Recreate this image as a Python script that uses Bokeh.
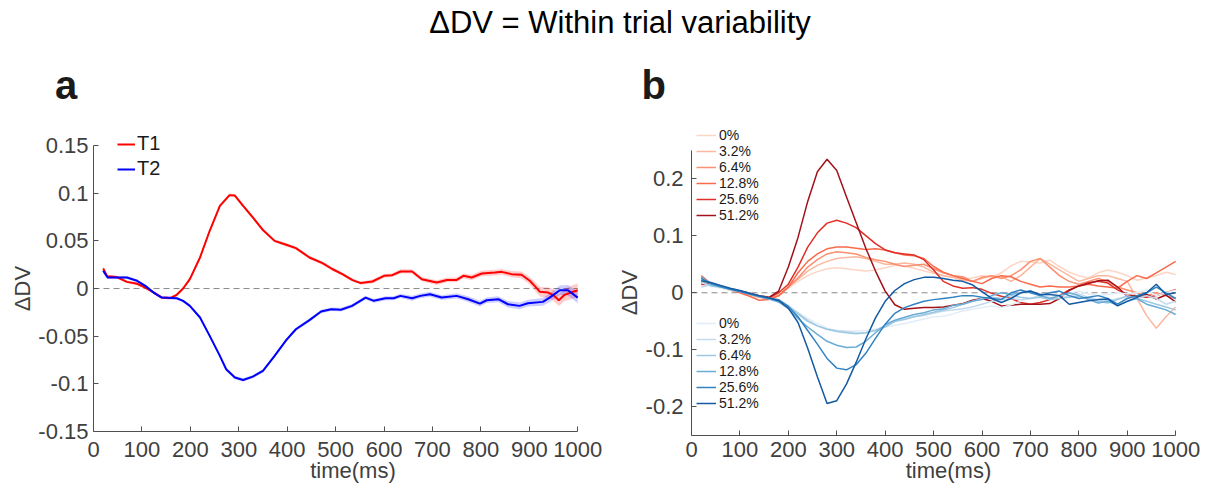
import math
from bokeh.plotting import figure
from bokeh.models import Range1d, FixedTicker, Legend, LegendItem
from bokeh.layouts import column, row
from bokeh.embed import file_html
from bokeh.resources import INLINE
from bokeh.core.properties import value

# ---------------- text ----------------
title_text = "ΔDV = Within trial variability"
panel_a_letter = "a"
panel_b_letter = "b"
x_label = "time(ms)"
y_label = "ΔDV"

# ---------------- ticks ----------------
x_ticks = [0, 100, 200, 300, 400, 500, 600, 700, 800, 900, 1000]
x_tick_labels = ["0", "100", "200", "300", "400", "500", "600", "700", "800", "900", "1000"]
ya_ticks = [-0.15, -0.1, -0.05, 0, 0.05, 0.1, 0.15]
ya_tick_labels = ["-0.15", "-0.1", "-0.05", "0", "0.05", "0.1", "0.15"]
yb_ticks = [-0.2, -0.1, 0, 0.1, 0.2]
yb_tick_labels = ["-0.2", "-0.1", "0", "0.1", "0.2"]

# ---------------- panel a ----------------
series_a = ["T1", "T2"]
t_T1 = [20, 28, 48, 69, 90, 107, 124, 141, 158, 172, 185, 199, 220, 240, 261, 281, 292, 309, 329, 350,
        374, 398, 418, 446, 473, 493, 514, 535, 552, 576, 600, 617, 634, 658, 678, 709, 730, 750, 764, 781,
        802, 829, 843, 863, 884, 901, 911, 922, 939, 949, 961, 973, 986, 1000]
dv_T1 = [0.021, 0.013, 0.012, 0.007, 0.005, 0.001, -0.004, -0.0095, -0.010, -0.0066,
         0.0, 0.0099, 0.0326, 0.0606, 0.0868, 0.098, 0.0975, 0.0868, 0.0746, 0.0613,
         0.050, 0.0459, 0.0424, 0.0326, 0.0266, 0.0205, 0.0151, 0.0088, 0.0057, 0.0074,
         0.0133, 0.014, 0.0179, 0.0179, 0.0098, 0.0063, 0.009, 0.009, 0.0133, 0.0116,
         0.0158, 0.0168, 0.0175, 0.0151, 0.0144, 0.0081, 0.0028, -0.0035, -0.0042, -0.0066,
         -0.0122, -0.0066, -0.0042, -0.0018]
sem_T1 = [0.0025, 0.0015, 0.0015, 0.0015, 0.0015, 0.0015, 0.0015, 0.0015, 0.0015, 0.0015,
          0.0015, 0.0015, 0.0015, 0.0015, 0.0015, 0.0018, 0.0018, 0.0018, 0.0018, 0.0018,
          0.0018, 0.0018, 0.0018, 0.0018, 0.0018, 0.0018, 0.0018, 0.0018, 0.0018, 0.002,
          0.002, 0.002, 0.0022, 0.0022, 0.0022, 0.0025, 0.0025, 0.0025, 0.0025, 0.0028,
          0.003, 0.003, 0.003, 0.0032, 0.0035, 0.004, 0.0045, 0.005, 0.0055, 0.006,
          0.006, 0.0065, 0.007, 0.007]
t_T2 = [20, 29, 48, 69, 90, 107, 124, 141, 172, 185, 199, 220, 240, 261, 274, 292, 309, 329, 350, 374,
        398, 418, 446, 470, 491, 511, 534, 562, 579, 603, 620, 634, 658, 675, 695, 719, 750, 774, 798, 812,
        836, 856, 880, 897, 928, 942, 963, 980, 1000]
dv_T2 = [0.0186, 0.0116, 0.0116, 0.0116, 0.0081, 0.0028, -0.0042, -0.0095, -0.0102, -0.0129,
         -0.0182, -0.0304, -0.0497, -0.0707, -0.0847, -0.0934, -0.0959, -0.0924, -0.0864, -0.0707,
         -0.0542, -0.0427, -0.0332, -0.0241, -0.0217, -0.0222, -0.0182, -0.0095, -0.0129, -0.0102,
         -0.0102, -0.0077, -0.0102, -0.0077, -0.006, -0.0095, -0.0077, -0.0112, -0.0158, -0.0123,
         -0.0112, -0.0165, -0.0182, -0.0154, -0.014, -0.0095, -0.0018, -0.0018, -0.0095]
sem_T2 = [0.0025, 0.0015, 0.0015, 0.0015, 0.0015, 0.0015, 0.0015, 0.0015, 0.0015, 0.0015,
          0.0015, 0.0015, 0.0018, 0.0018, 0.0018, 0.0018, 0.0018, 0.0018, 0.0018, 0.0018,
          0.0018, 0.0018, 0.0018, 0.0018, 0.0018, 0.002, 0.002, 0.002, 0.002, 0.0022,
          0.0022, 0.0022, 0.0025, 0.0025, 0.0025, 0.0025, 0.0028, 0.003, 0.003, 0.003,
          0.0032, 0.0035, 0.0035, 0.0035, 0.004, 0.0045, 0.005, 0.0055, 0.006]

# ---------------- panel b ----------------
coherence_labels = ["0%", "3.2%", "6.4%", "12.8%", "25.6%", "51.2%"]
t_b = [20, 40, 60, 80, 100, 120, 140, 160, 180, 200, 220, 240, 260, 280, 300, 320, 340, 360, 380, 400,
       420, 440, 460, 480, 500, 520, 540, 560, 580, 600, 620, 640, 660, 680, 700, 720, 740, 760, 780, 800,
       820, 840, 860, 880, 900, 920, 940, 960, 980, 1000]
T1_0p0 = [0.022, 0.016, 0.011, 0.007, 0.003, -0.001, -0.005, -0.008, -0.004, 0.008,
          0.02, 0.03, 0.037, 0.042, 0.044, 0.042, 0.04, 0.038, 0.04, 0.044,
          0.048, 0.047, 0.043, 0.038, 0.034, 0.03, 0.027, 0.025, 0.026, 0.03,
          0.027, 0.035, 0.047, 0.055, 0.054, 0.052, 0.057, 0.046, 0.036, 0.03,
          0.026, 0.035, 0.04, 0.036, 0.03, 0.022, 0.026, 0.03, 0.036, 0.032]
T1_3p2 = [0.026, 0.017, 0.012, 0.006, 0.002, -0.002, -0.007, -0.01, -0.006, 0.01,
          0.024, 0.038, 0.048, 0.055, 0.06, 0.062, 0.063, 0.06, 0.055, 0.05,
          0.05, 0.052, 0.05, 0.045, 0.036, 0.03, 0.027, 0.022, 0.02, 0.025,
          0.03, 0.028, 0.02, 0.03, 0.045, 0.06, 0.05, 0.04, 0.03, 0.02,
          0.025, 0.03, 0.03, 0.025, 0.02, -0.01, -0.04, -0.062, -0.042, -0.025]
T1_6p4 = [0.02, 0.015, 0.01, 0.006, 0.002, -0.003, -0.008, -0.011, -0.005, 0.01,
          0.026, 0.045, 0.058, 0.068, 0.072, 0.07, 0.068, 0.062, 0.058, 0.055,
          0.05, 0.046, 0.048, 0.05, 0.042, 0.035, 0.03, 0.028, 0.02, 0.027,
          0.03, 0.025, 0.03, 0.04, 0.055, 0.06, 0.045, 0.03, 0.02, 0.015,
          0.02, 0.025, 0.02, 0.01, 0.005, 0.0, -0.005, 0.0, -0.005, -0.01]
T1_12p8 = [0.03, 0.016, 0.009, 0.005, 0.0, -0.006, -0.013, -0.012, -0.005, 0.01,
           0.035, 0.055, 0.068, 0.077, 0.08, 0.08, 0.078, 0.076, 0.077, 0.075,
           0.07, 0.066, 0.065, 0.06, 0.046, 0.036, 0.03, 0.025, 0.02, 0.016,
           0.025, 0.03, 0.028, 0.02, 0.015, 0.01, 0.012, 0.01, 0.01, 0.012,
           0.015, 0.012, 0.01, 0.008, 0.02, 0.03, 0.025, 0.035, 0.045, 0.055]
T1_25p6 = [0.015, 0.013, 0.01, 0.006, 0.002, -0.002, -0.006, -0.009, 0.0, 0.015,
           0.045, 0.08, 0.105, 0.122, 0.127, 0.122, 0.114, 0.1, 0.086, 0.075,
           0.07, 0.068, 0.066, 0.058, 0.04, 0.02, 0.012, 0.008, 0.009, 0.006,
           -0.001, -0.006, -0.01, -0.017, -0.02, -0.017, -0.012, -0.005, 0.005, 0.012,
           0.018, 0.02, 0.017, 0.005, -0.003, -0.006, -0.008, -0.005, 0.0, 0.006]
T1_51p2 = [0.018, 0.014, 0.01, 0.006, 0.003, -0.001, -0.005, -0.008, 0.003, 0.045,
           0.097, 0.16, 0.212, 0.234, 0.214, 0.168, 0.123, 0.078, 0.038, 0.003,
           -0.021, -0.029, -0.027, -0.026, -0.026, -0.025, -0.022, -0.019, -0.013, -0.01,
           -0.015, -0.023, -0.022, -0.02, -0.02, -0.02, -0.019, -0.01, 0.004, 0.012,
           0.016, 0.021, 0.022, 0.01, -0.006, -0.005, -0.003, -0.011, -0.004, -0.016]
T2_0p0 = [0.018, 0.012, 0.008, 0.005, 0.002, -0.002, -0.006, -0.01, -0.015, -0.025,
          -0.035, -0.045, -0.054, -0.062, -0.066, -0.067, -0.067, -0.066, -0.064, -0.06,
          -0.057, -0.054, -0.05, -0.046, -0.042, -0.041, -0.037, -0.032, -0.029, -0.026,
          -0.023, -0.026, -0.021, -0.015, -0.009, -0.006, -0.003, -0.006, -0.001, 0.003,
          -0.002, -0.005, -0.003, 0.0, -0.002, 0.0, 0.005, -0.005, 0.0, 0.005]
T2_3p2 = [0.01, 0.014, 0.01, 0.006, 0.002, -0.002, -0.006, -0.01, -0.013, -0.022,
          -0.035, -0.048, -0.058, -0.064, -0.066, -0.068, -0.07, -0.07, -0.065, -0.058,
          -0.05, -0.045, -0.042, -0.04, -0.036, -0.032, -0.03, -0.028, -0.025, -0.02,
          -0.015, -0.012, -0.01, -0.012, -0.01, -0.005, -0.008, -0.01, -0.005, -0.002,
          -0.008, -0.012, -0.015, -0.01, -0.008, -0.01, -0.005, -0.01, -0.02, -0.015]
T2_6p4 = [0.02, 0.012, 0.01, 0.007, 0.003, -0.001, -0.006, -0.01, -0.014, -0.024,
          -0.037, -0.05, -0.058, -0.064, -0.068, -0.07, -0.072, -0.07, -0.066, -0.06,
          -0.05, -0.047, -0.042, -0.038, -0.034, -0.03, -0.026, -0.02, -0.015, -0.01,
          -0.008, -0.01, -0.005, -0.008, -0.01, -0.008, -0.012, -0.01, -0.008, -0.006,
          -0.01, -0.015, -0.018, -0.012, -0.005, -0.01, -0.015, -0.02, -0.025, -0.03]
T2_12p8 = [0.028, 0.015, 0.01, 0.006, 0.002, -0.002, -0.007, -0.011, -0.016, -0.028,
           -0.045, -0.06, -0.073, -0.085, -0.092, -0.096, -0.095, -0.085, -0.07, -0.056,
           -0.048, -0.043, -0.038, -0.035, -0.03, -0.028, -0.022, -0.02, -0.015, -0.012,
           -0.005, 0.0, -0.003, 0.0, 0.003, -0.005, -0.01, -0.005, 0.0, -0.005,
           -0.012, -0.018, -0.015, -0.022, -0.015, -0.01, -0.02, -0.025, -0.03, -0.038]
T2_25p6 = [0.025, 0.016, 0.011, 0.006, 0.002, -0.002, -0.006, -0.009, -0.012, -0.024,
           -0.042, -0.066, -0.09, -0.115, -0.132, -0.135, -0.126, -0.106, -0.08, -0.055,
           -0.036, -0.026, -0.02, -0.015, -0.012, -0.01, -0.008, -0.005, -0.005, -0.008,
           -0.01, -0.012, 0.0, 0.005, 0.0, -0.005, 0.0, 0.003, -0.005, -0.01,
           -0.008, -0.005, -0.01, -0.02, -0.01, -0.005, 0.0, 0.01, 0.0, -0.01]
T2_51p2 = [0.021, 0.018, 0.013, 0.008, 0.004, -0.001, -0.005, -0.009, -0.014, -0.027,
           -0.052, -0.097, -0.147, -0.194, -0.189, -0.16, -0.122, -0.081, -0.044, -0.015,
           0.004, 0.016, 0.023, 0.027, 0.027, 0.025, 0.022, 0.02, 0.014, 0.002,
           -0.01, -0.017, -0.01, 0.0, 0.003, -0.003, -0.003, -0.005, -0.02, -0.017,
           -0.014, -0.012, -0.011, -0.023, -0.015, -0.008, 0.0, 0.015, -0.003, 0.0]

red_series = [T1_0p0, T1_3p2, T1_6p4, T1_12p8, T1_25p6, T1_51p2]
blue_series = [T2_0p0, T2_3p2, T2_6p4, T2_12p8, T2_25p6, T2_51p2]

# ---------------- styles ----------------
FONT = "Liberation Sans"
TEXT_C = "#1a1a1a"
TICK_C = "#404040"
AX_C = "#505050"
red_colors = ["#fdd5c4", "#fcb79c", "#fc9070", "#f96a4b", "#df2f28", "#a3121b"]
blue_colors = ["#e2edf8", "#c4daee", "#9cc8e2", "#69acd6", "#3383c2", "#135aa3"]
T1_COLOR = "#ff0000"
T2_COLOR = "#0000ff"

W = 1205          # canvas width
TH = 112          # title strip height
RH = 382          # panel row height
PX_PER_MS = 0.487 # horizontal scale shared by both panels


def strip(width, height):
    s = figure(width=width, height=height, x_range=Range1d(0, width), y_range=Range1d(height, 0),
               min_border=0, toolbar_location=None, output_backend="svg",
               x_axis_location=None, y_axis_location=None)
    s.outline_line_color = None
    s.grid.visible = False
    s.frame_align = False
    return s


def style_axes(p, yticks, ylabels, ybounds, x_standoff, y_standoff):
    for ax in (p.xaxis[0], p.yaxis[0]):
        ax.axis_line_color = AX_C
        ax.axis_line_width = 1
        ax.major_tick_line_color = AX_C
        ax.major_tick_in = 5
        ax.major_tick_out = 0
        ax.minor_tick_line_color = None
        ax.major_label_text_font = FONT
        ax.major_label_text_font_size = "22px"
        ax.major_label_text_color = TICK_C
    p.xaxis.ticker = FixedTicker(ticks=x_ticks)
    p.xaxis.major_label_overrides = {t: l for t, l in zip(x_ticks, x_tick_labels)}
    p.xaxis.major_label_standoff = x_standoff
    p.xaxis.bounds = (x_ticks[0], x_ticks[-1])
    p.xaxis.axis_label = x_label
    p.xaxis.axis_label_standoff = -2
    p.xaxis.axis_label_text_font = FONT
    p.xaxis.axis_label_text_font_size = "22px"
    p.xaxis.axis_label_text_font_style = "normal"
    p.xaxis.axis_label_text_color = TICK_C
    p.yaxis.ticker = FixedTicker(ticks=yticks)
    p.yaxis.major_label_overrides = {t: l for t, l in zip(yticks, ylabels)}
    p.yaxis.major_label_standoff = y_standoff
    p.yaxis.bounds = ybounds
    p.xgrid.visible = False
    p.ygrid.visible = False
    p.outline_line_color = None
    p.frame_align = False
    # dashed zero reference line across the time axis
    p.segment(x0=[x_ticks[0]], y0=[0], x1=[x_ticks[-1]], y1=[0], line_color="#8a8a8a",
              line_dash="6 4", line_width=1)


# ---------------- title strip ----------------
tf = strip(W, TH)
tf.text(x=[619.5], y=[22], text=[title_text], text_font=value(FONT), text_font_size="31px",
        text_align="center", text_baseline="middle", text_color="#000000")
tf.text(x=[54.5, 641], y=[84.5, 84.5], text=[panel_a_letter, panel_b_letter], text_font=value(FONT),
        text_font_size="40px", text_font_style="bold", text_align="left",
        text_baseline="middle", text_color="#1a1a1a")

# ---------------- y-label strips ----------------
ya = strip(35, RH)
ya.text(x=[22], y=[176], text=[y_label], angle=math.pi / 2, text_font=value(FONT),
        text_font_size="22px", text_align="center", text_baseline="middle", text_color=TICK_C)
yb = strip(26, RH)
yb.text(x=[13], y=[180], text=[y_label], angle=math.pi / 2, text_font=value(FONT),
        text_font_size="22px", text_align="center", text_baseline="middle", text_color=TICK_C)

# ---------------- panel a ----------------
fa_frame_w = 522
fa = figure(width=55 + fa_frame_w + 4, height=RH,
            x_range=Range1d(0, fa_frame_w / PX_PER_MS), y_range=Range1d(-0.15, 0.17),
            min_border_left=55, min_border_right=4, min_border_top=14, min_border_bottom=63,
            toolbar_location=None, output_backend="svg")
style_axes(fa, ya_ticks, ya_tick_labels, (-0.15, 0.15), 10, 5)

lo1 = [v - s for v, s in zip(dv_T1, sem_T1)]
hi1 = [v + s for v, s in zip(dv_T1, sem_T1)]
lo2 = [v - s for v, s in zip(dv_T2, sem_T2)]
hi2 = [v + s for v, s in zip(dv_T2, sem_T2)]
fa.varea(x=t_T1, y1=lo1, y2=hi1, fill_color=T1_COLOR, fill_alpha=0.2)
fa.varea(x=t_T2, y1=lo2, y2=hi2, fill_color=T2_COLOR, fill_alpha=0.2)
r1 = fa.line(t_T1, dv_T1, line_color=T1_COLOR, line_width=2)
r2 = fa.line(t_T2, dv_T2, line_color=T2_COLOR, line_width=2)
leg_a = Legend(items=[LegendItem(label=series_a[0], renderers=[r1]),
                      LegendItem(label=series_a[1], renderers=[r2])],
               location=(24, 251), orientation="vertical", background_fill_alpha=0,
               border_line_color=None, padding=0, margin=0, spacing=2,
               glyph_width=18, glyph_height=16, label_height=16, label_standoff=2,
               label_text_font=FONT, label_text_font_size="20px", label_text_color=TEXT_C)
fa.add_layout(leg_a)

# ---------------- panel b ----------------
fb_frame_w = 517
fb = figure(width=46 + fb_frame_w, height=RH,
            x_range=Range1d(0, fb_frame_w / PX_PER_MS), y_range=Range1d(-0.25, 0.30),
            min_border_left=46, min_border_right=0, min_border_top=9, min_border_bottom=59,
            toolbar_location=None, output_backend="svg")
style_axes(fb, yb_ticks, yb_tick_labels, (-0.25, 0.25), 6, 8)

red_r = []
for vals, col in zip(red_series, red_colors):
    n = min(len(t_b), len(vals))
    red_r.append(fb.line(t_b[:n], vals[:n], line_color=col, line_width=1.5))
blue_r = []
for vals, col in zip(blue_series, blue_colors):
    n = min(len(t_b), len(vals))
    blue_r.append(fb.line(t_b[:n], vals[:n], line_color=col, line_width=1.5))


def make_legend(items_r, loc):
    return Legend(items=[LegendItem(label=lab, renderers=[r]) for lab, r in zip(coherence_labels, items_r)],
                  location=loc, orientation="vertical", background_fill_alpha=0,
                  border_line_color=None, padding=0, margin=0, spacing=0,
                  glyph_width=20, glyph_height=12, label_height=12, label_standoff=3,
                  label_text_font=FONT, label_text_font_size="14px", label_text_color=TEXT_C)


fb.add_layout(make_legend(red_r, (5, 212)))
fb.add_layout(make_legend(blue_r, (5, 24)))

layout = column(tf, row(ya, fa, yb, fb))
open("out.html", "w").write(file_html(layout, INLINE))
